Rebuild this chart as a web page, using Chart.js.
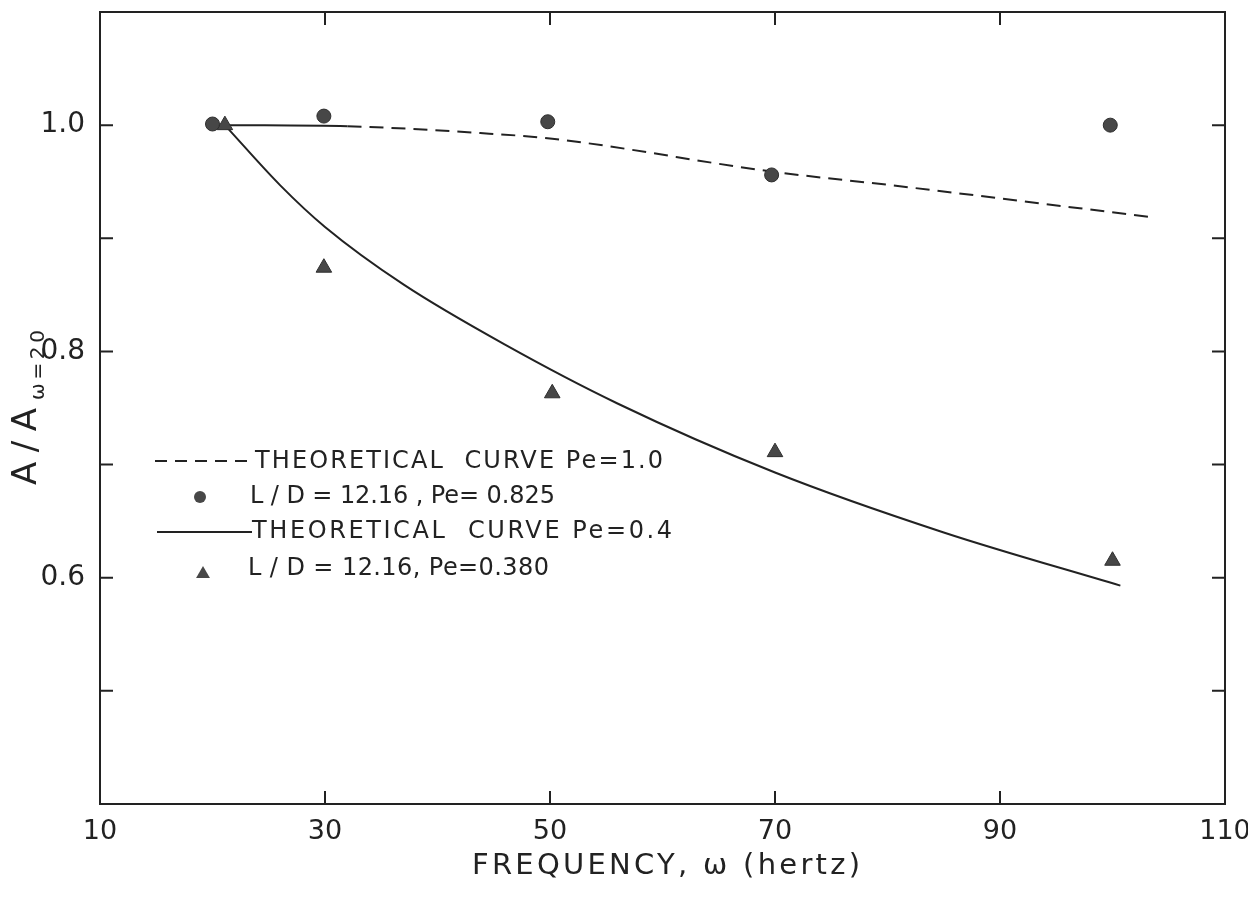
<!DOCTYPE html>
<html>
<head>
<meta charset="utf-8">
<script src="https://cdn.jsdelivr.net/npm/chart.js@4.4.1/dist/chart.umd.min.js"></script>
<style>
  html, body { margin: 0; background: #fff; }
  #wrap { width: 1248px; height: 902px; }
</style>
</head>
<body>
<div id="wrap"><canvas id="ampChart" width="1248" height="902"></canvas></div>
<script>
// measured amplitude ratios
const freqPe0825 = [20.0, 29.9, 49.8, 69.7, 99.8];
const ampPe0825 = [1.001, 1.008, 1.003, 0.956, 1.0];
const freqPe0380 = [21.1, 29.9, 50.2, 70.0, 100.0];
const ampPe0380 = [1.0, 0.874, 0.763, 0.711, 0.615];

// theoretical curves
const freqTheory10 = [21.3, 32.0, 43.8, 50.2, 69.7, 81.1, 103.2];
const ampTheory10 = [1.0, 0.999, 0.993, 0.988, 0.959, 0.946, 0.919];
const freqTheory04 = [21.1, 26.0, 30.0, 37.0, 46.0, 56.0, 70.0, 85.0, 100.7];
const ampTheory04 = [1.0, 0.947, 0.910, 0.859, 0.806, 0.754, 0.693, 0.640, 0.593];

const xTicks = [10, 30, 50, 70, 90, 110];
const yTicks = [0.5, 0.6, 0.7, 0.8, 0.9, 1.0];
const yLabelled = [0.6, 0.8, 1.0];

const legendLabels = [
    'THEORETICAL  CURVE Pe=1.0',
    'L / D = 12.16 , Pe= 0.825',
    'THEORETICAL  CURVE Pe=0.4',
    'L / D = 12.16, Pe=0.380'
];

const FONT = '"DejaVu Sans", sans-serif';
const INK = '#222';
const MARK = '#474747';

const toPoints = (xs, ys) => xs.map((x, i) => ({ x, y: ys[i] }));

// text stretched to a given width, like the hand lettering
function spacedText(ctx, text, x, y, width) {
    ctx.letterSpacing = '0px';
    const w = ctx.measureText(text).width;
    ctx.letterSpacing = ((width - w) / (text.length - 1)) + 'px';
    ctx.fillText(text, x, y);
    ctx.letterSpacing = '0px';
}

function triangle(ctx, x, y, r) {
    ctx.beginPath();
    ctx.moveTo(x, y - r);
    ctx.lineTo(x + r * 0.866, y + r * 0.5);
    ctx.lineTo(x - r * 0.866, y + r * 0.5);
    ctx.closePath();
    ctx.fill();
}

const framePlugin = {
    id: 'frame',
    afterDraw(chart) {
        const { ctx, chartArea: a, scales } = chart;
        ctx.save();
        ctx.strokeStyle = INK;
        ctx.fillStyle = INK;
        ctx.lineWidth = 2;
        ctx.strokeRect(a.left, a.top, a.right - a.left, a.bottom - a.top);

        // inward tick marks on all four sides
        const tl = 13;
        ctx.beginPath();
        xTicks.slice(1, -1).forEach(v => {
            const px = scales.x.getPixelForValue(v);
            ctx.moveTo(px, a.bottom); ctx.lineTo(px, a.bottom - tl);
            ctx.moveTo(px, a.top); ctx.lineTo(px, a.top + tl);
        });
        yTicks.forEach(v => {
            const py = scales.y.getPixelForValue(v);
            ctx.moveTo(a.left, py); ctx.lineTo(a.left + tl, py);
            ctx.moveTo(a.right, py); ctx.lineTo(a.right - tl, py);
        });
        ctx.stroke();

        // axis titles
        ctx.textAlign = 'left';
        ctx.textBaseline = 'alphabetic';
        ctx.font = '29px ' + FONT;
        spacedText(ctx, 'FREQUENCY, \u03c9 (hertz)', 472, 874, 388);

        ctx.save();
        ctx.translate(36, 485);
        ctx.rotate(-Math.PI / 2);
        ctx.font = '34px ' + FONT;
        spacedText(ctx, 'A / A', 0, 0, 77);
        ctx.font = '20px ' + FONT;
        spacedText(ctx, '\u03c9=20', 85, 8, 70);
        ctx.restore();

        // legend
        ctx.font = '24px ' + FONT;
        ctx.textBaseline = 'middle';
        ctx.setLineDash([12, 8]);
        ctx.beginPath(); ctx.moveTo(155, 461); ctx.lineTo(253, 461); ctx.stroke();
        ctx.setLineDash([]);
        ctx.beginPath(); ctx.moveTo(157, 532); ctx.lineTo(252, 532); ctx.stroke();
        ctx.fillStyle = MARK;
        ctx.beginPath(); ctx.arc(200, 497, 6, 0, Math.PI * 2); ctx.fill();
        triangle(ctx, 203, 574, 8);
        ctx.fillStyle = INK;
        spacedText(ctx, legendLabels[0], 255, 462, 408);
        spacedText(ctx, legendLabels[1], 250, 497, 305);
        spacedText(ctx, legendLabels[2], 252, 532, 420);
        spacedText(ctx, legendLabels[3], 248, 569, 301);
        ctx.restore();
    }
};

new Chart(document.getElementById('ampChart').getContext('2d'), {
    type: 'scatter',
    data: {
        datasets: [
            {
                label: 'L/D = 12.16, Pe = 0.825',
                data: toPoints(freqPe0825, ampPe0825),
                pointStyle: 'circle',
                pointRadius: 7,
                backgroundColor: MARK,
                borderColor: '#2e2e2e',
                borderWidth: 1,
                order: 0
            },
            {
                label: 'L/D = 12.16, Pe = 0.380',
                data: toPoints(freqPe0380, ampPe0380),
                pointStyle: 'triangle',
                pointRadius: 9,
                backgroundColor: MARK,
                borderColor: '#2e2e2e',
                borderWidth: 1,
                order: 0
            },
            {
                label: 'Theoretical curve Pe = 1.0',
                data: toPoints(freqTheory10, ampTheory10),
                showLine: true,
                pointRadius: 0,
                borderColor: INK,
                borderWidth: 2,
                cubicInterpolationMode: 'monotone',
                segment: {
                    borderDash: c => c.p0.parsed.x < 31 ? [] : [14, 8]
                },
                order: 1
            },
            {
                label: 'Theoretical curve Pe = 0.4',
                data: toPoints(freqTheory04, ampTheory04),
                showLine: true,
                pointRadius: 0,
                borderColor: INK,
                borderWidth: 2,
                cubicInterpolationMode: 'monotone',
                order: 1
            }
        ]
    },
    options: {
        responsive: false,
        animation: false,
        layout: { padding: { top: 12, right: 23, left: 0, bottom: 0 } },
        plugins: {
            legend: { display: false },
            tooltip: { enabled: false }
        },
        scales: {
            x: {
                type: 'linear',
                min: 10,
                max: 110,
                afterBuildTicks: s => { s.ticks = xTicks.map(v => ({ value: v })); },
                afterFit: s => { s.height = 98; s.paddingLeft = 0; s.paddingRight = 0; },
                grid: { display: false },
                border: { display: false },
                ticks: {
                    autoSkip: false,
                    maxRotation: 0,
                    padding: 4,
                    color: INK,
                    font: { family: FONT, size: 27 },
                    callback: v => String(v)
                }
            },
            y: {
                min: 0.4,
                max: 1.1,
                afterBuildTicks: s => { s.ticks = yTicks.map(v => ({ value: v })); },
                afterFit: s => { s.width = 100; s.paddingTop = 0; s.paddingBottom = 0; },
                grid: { display: false },
                border: { display: false },
                ticks: {
                    autoSkip: false,
                    padding: 7,
                    color: INK,
                    font: { family: FONT, size: 28 },
                    callback: v => yLabelled.some(l => Math.abs(l - v) < 1e-6) ? v.toFixed(1) : ''
                }
            }
        }
    },
    plugins: [framePlugin]
});
</script>
</body>
</html>
